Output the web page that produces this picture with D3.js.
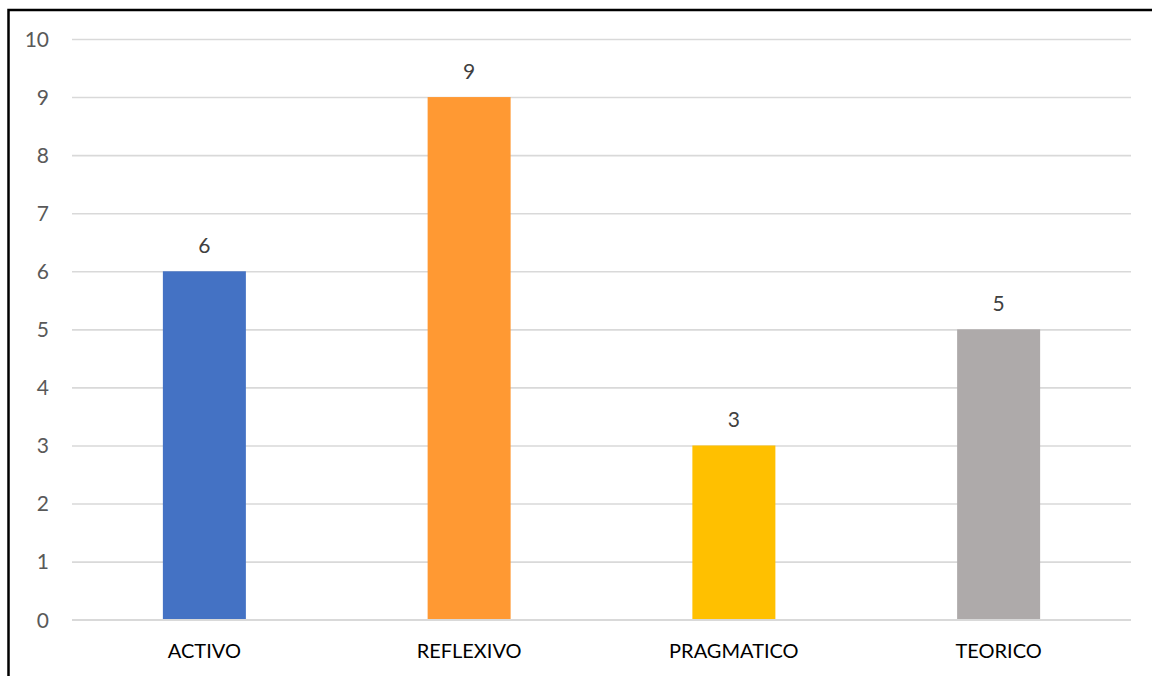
<!DOCTYPE html>
<html><head><meta charset="utf-8">
<script src="https://cdn.jsdelivr.net/npm/d3@7"></script>
<style>html,body{margin:0;padding:0;background:#fff;overflow:hidden}</style>
</head><body><svg id="c" width="1152" height="676"></svg>
<script>
const categories = ["ACTIVO", "REFLEXIVO", "PRAGMATICO", "TEORICO"];
const values = [6, 9, 3, 5];
const colors = ["#4472C4", "#FF9933", "#FFC000", "#AEAAAA"];
const yTicks = [0,1,2,3,4,5,6,7,8,9,10];

const svg = d3.select("#c");
const font = "Lato, 'Open Sans', sans-serif";

svg.append("rect").attr("x",8.5).attr("y",10).attr("width",1200).attr("height",700)
  .attr("fill","#fff").attr("stroke","#000").attr("stroke-width",2.5);

const x = d3.scaleBand().domain(categories).range([72,1131]).paddingInner(0.6865).paddingOuter(0.6865/2);
const y = d3.scaleLinear().domain([0,10]).range([619.7,39]);

// gridlines
const yAxis = d3.axisLeft(y).tickValues(yTicks).tickSize(-(1131-72)).tickPadding(23).tickFormat(d3.format("d"));
const gy = svg.append("g").attr("transform","translate(72,0)").call(yAxis);
gy.select(".domain").remove();
gy.selectAll(".tick line").attr("stroke","#d9d9d9").attr("stroke-width",1.6);
gy.selectAll(".tick text").attr("fill","#595959").attr("font-family",font).attr("font-size",21).attr("dy","0.35em");

// bars
svg.append("g").selectAll("rect").data(categories).join("rect")
  .attr("x",d=>x(d)).attr("width",x.bandwidth())
  .attr("y",(d,i)=>y(values[i])).attr("height",(d,i)=>y(0)-y(values[i]))
  .attr("fill",(d,i)=>colors[i]);

// zero axis line
svg.append("line").attr("x1",72).attr("x2",1131).attr("y1",y(0)).attr("y2",y(0))
  .attr("stroke","#d9d9d9").attr("stroke-width",1.6);

// data labels
svg.append("g").selectAll("text").data(categories).join("text")
  .attr("x",d=>x(d)+x.bandwidth()/2).attr("y",(d,i)=>y(values[i])-18)
  .attr("text-anchor","middle").attr("fill","#404040")
  .attr("font-family",font).attr("font-size",21).text((d,i)=>values[i]);

// x axis labels
const xAxis = d3.axisBottom(x).tickSize(0).tickPadding(0);
const gx = svg.append("g").attr("transform","translate(0,"+y(0)+")").call(xAxis);
gx.select(".domain").remove();
gx.selectAll(".tick text").attr("fill","#000").attr("font-family",font).attr("font-size",20)
  .attr("dy",0).attr("y",38);
</script></body></html>
